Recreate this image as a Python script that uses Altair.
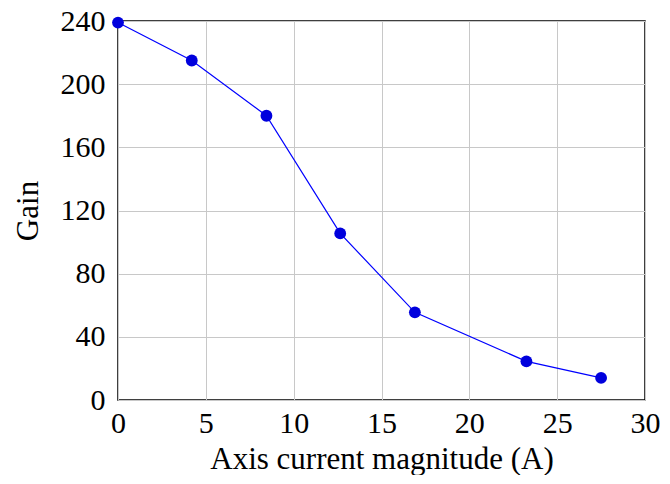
import altair as alt
import pandas as pd

current = [0, 4.2, 8.45, 12.65, 16.9, 23.25, 27.5]
gain = [239, 215, 180, 105.5, 55.5, 24.5, 14]

df = pd.DataFrame({"current": current, "gain": gain})

FONT = "Liberation Serif"

x = alt.X("current:Q", scale=alt.Scale(domain=[0, 30], nice=False, zero=False),
          axis=alt.Axis(title="Axis current magnitude (A)", values=[0, 5, 10, 15, 20, 25, 30],
                        tickSize=0, labelPadding=8, titlePadding=6, labelFlush=False))
y = alt.Y("gain:Q", scale=alt.Scale(domain=[0, 240], nice=False),
          axis=alt.Axis(title="Gain", values=[0, 40, 80, 120, 160, 200, 240],
                        tickSize=0, labelPadding=13, titlePadding=16, labelFlush=False))

base = alt.Chart(df).encode(x=x, y=y)
line = base.mark_line(color="#0000ff", strokeWidth=1.2)
pts = base.mark_point(filled=True, color="#0000dd", size=140, opacity=1)

chart = (line + pts).properties(
    width=527, height=379,
    autosize=alt.AutoSizeParams(type="none"),
    padding={"left": 110, "top": 13, "right": 16, "bottom": 75},
).configure_view(stroke="black", strokeWidth=1.5).configure_axis(
    labelFont=FONT, titleFont=FONT, labelFontSize=30, titleFontSize=31,
    labelColor="black", titleColor="black", titleFontWeight="normal",
    grid=True, gridColor="#c8c8c8", gridWidth=1, domain=False,
)

chart.save("out.html", embed_options={"renderer": "svg", "actions": False})
